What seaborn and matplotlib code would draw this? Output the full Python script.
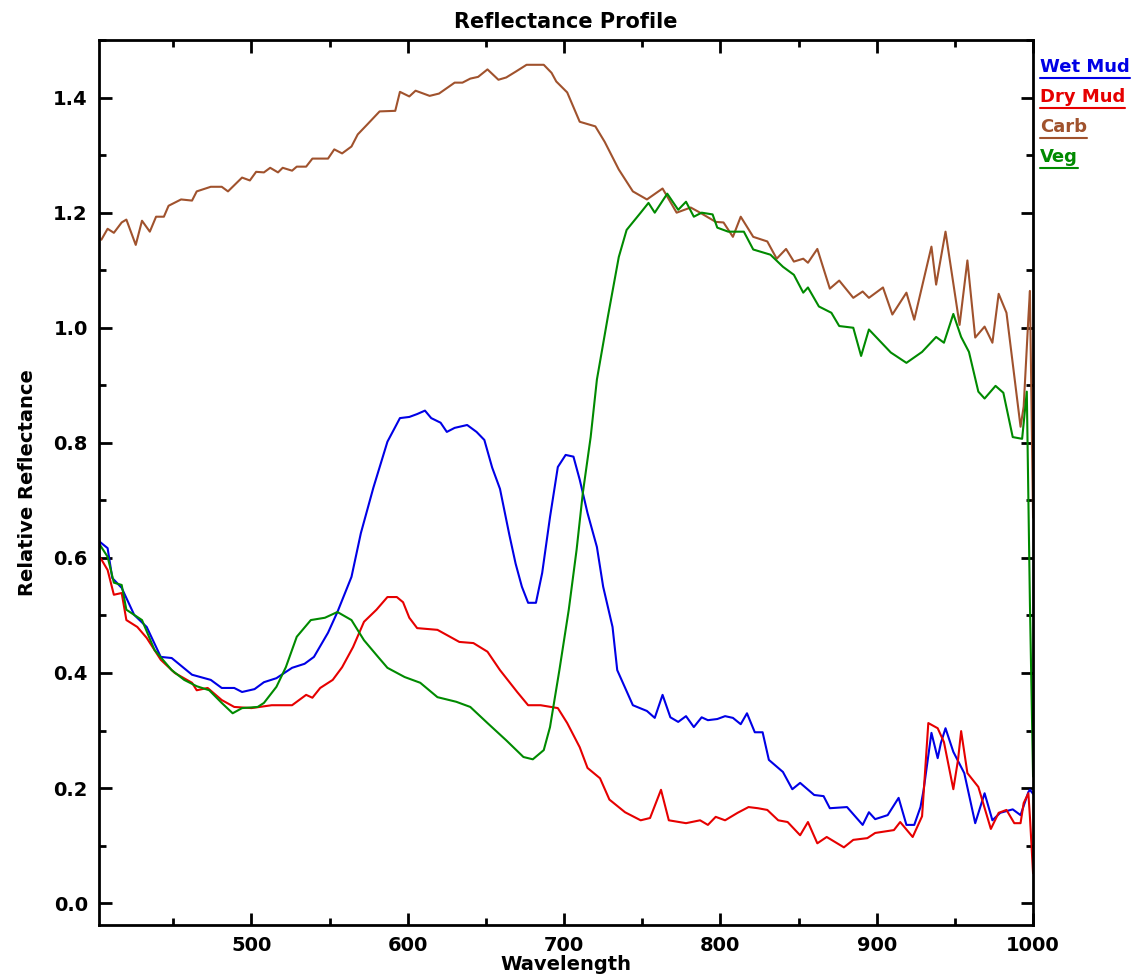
import matplotlib
matplotlib.use("Agg")
import matplotlib.pyplot as plt
import seaborn as sns
import pandas as pd
from matplotlib.lines import Line2D
from matplotlib.ticker import MultipleLocator

# Wet Mud
wet_wl = [403, 408, 411, 417, 425, 433, 442, 449, 462, 474, 481, 489, 494, 502, 508,
          516, 526, 534, 540, 549, 555, 564, 570, 578, 587, 595, 601, 606, 611, 615,
          621, 625, 630, 638, 644, 649, 654, 659, 665, 669, 673, 677, 682, 686, 691,
          696, 701, 706, 710, 715, 721, 725, 731, 734, 744, 753, 758, 763, 768, 773,
          778, 783, 788, 792, 798, 803, 808, 813, 817, 822, 827, 831, 840, 846, 851,
          860, 866, 870, 881, 891, 895, 899, 907, 914, 919, 924, 928, 930, 935, 939,
          941, 944, 949, 956, 963, 969, 974, 979, 987, 992, 997, 998, 1000]
wet_refl = [0.628, 0.617, 0.565, 0.548, 0.501, 0.480, 0.428, 0.426, 0.397, 0.388, 0.374,
            0.374, 0.367, 0.372, 0.384, 0.391, 0.409, 0.416, 0.428, 0.470, 0.506, 0.567,
            0.643, 0.722, 0.802, 0.843, 0.845, 0.850, 0.856, 0.843, 0.835, 0.819, 0.826,
            0.831, 0.819, 0.805, 0.757, 0.720, 0.640, 0.590, 0.550, 0.522, 0.522, 0.574,
            0.671, 0.758, 0.779, 0.776, 0.736, 0.678, 0.619, 0.550, 0.480, 0.405, 0.344,
            0.334, 0.322, 0.362, 0.323, 0.315, 0.325, 0.306, 0.323, 0.318, 0.320, 0.325,
            0.322, 0.311, 0.330, 0.297, 0.297, 0.249, 0.228, 0.198, 0.209, 0.188, 0.186,
            0.165, 0.167, 0.136, 0.158, 0.146, 0.153, 0.183, 0.136, 0.136, 0.167, 0.197,
            0.296, 0.252, 0.278, 0.304, 0.263, 0.226, 0.139, 0.191, 0.144, 0.157, 0.163,
            0.153, 0.193, 0.197, 0.190]

# Dry Mud
dry_wl = [403, 408, 412, 417, 420, 427, 433, 442, 451, 462, 465, 472, 481, 489, 500,
          513, 526, 535, 539, 544, 552, 558, 565, 572, 580, 587, 593, 597, 601, 606,
          619, 625, 633, 642, 651, 659, 670, 677, 685, 696, 702, 710, 715, 723, 729,
          739, 749, 755, 762, 767, 778, 787, 792, 797, 803, 811, 818, 824, 830, 837,
          843, 851, 856, 862, 868, 879, 885, 894, 899, 911, 915, 923, 929, 930, 933,
          939, 943, 949, 952, 954, 958, 965, 973, 978, 983, 988, 992, 994, 997, 998,
          1000]
dry_refl = [0.602, 0.579, 0.536, 0.539, 0.492, 0.480, 0.461, 0.423, 0.400, 0.383, 0.370,
            0.374, 0.353, 0.341, 0.339, 0.344, 0.344, 0.362, 0.357, 0.374, 0.388, 0.410,
            0.445, 0.489, 0.510, 0.532, 0.532, 0.523, 0.496, 0.478, 0.475, 0.466, 0.454,
            0.452, 0.437, 0.405, 0.367, 0.344, 0.344, 0.339, 0.313, 0.271, 0.235, 0.217,
            0.180, 0.158, 0.144, 0.148, 0.197, 0.144, 0.139, 0.144, 0.136, 0.150, 0.144,
            0.157, 0.167, 0.165, 0.162, 0.144, 0.141, 0.118, 0.141, 0.104, 0.115, 0.097,
            0.110, 0.113, 0.122, 0.127, 0.141, 0.115, 0.151, 0.191, 0.313, 0.304, 0.280,
            0.198, 0.249, 0.299, 0.226, 0.202, 0.129, 0.157, 0.162, 0.139, 0.139, 0.174,
            0.191, 0.150, 0.052]

# Carb
carb_wl = [404, 408, 412, 417, 420, 426, 430, 435, 439, 444, 447, 455, 462, 465, 474,
           481, 485, 494, 499, 503, 508, 512, 517, 520, 526, 529, 535, 539, 549, 553,
           558, 564, 568, 574, 582, 592, 595, 601, 605, 614, 620, 630, 635, 640, 645,
           651, 658, 663, 669, 676, 687, 692, 695, 702, 710, 720, 726, 735, 744, 753,
           763, 772, 781, 787, 797, 802, 808, 813, 821, 830, 836, 842, 847, 853, 856,
           862, 870, 876, 885, 891, 895, 904, 910, 919, 924, 935, 938, 944, 953, 958,
           963, 969, 974, 978, 983, 992, 994, 997, 998, 1000]
carb_refl = [1.153, 1.172, 1.165, 1.183, 1.188, 1.144, 1.186, 1.167, 1.193, 1.193, 1.212,
             1.223, 1.221, 1.237, 1.245, 1.245, 1.237, 1.261, 1.256, 1.271, 1.270, 1.278,
             1.270, 1.278, 1.273, 1.280, 1.280, 1.294, 1.294, 1.310, 1.303, 1.315, 1.336,
             1.353, 1.376, 1.377, 1.410, 1.402, 1.412, 1.403, 1.407, 1.426, 1.426, 1.433,
             1.436, 1.449, 1.431, 1.435, 1.445, 1.457, 1.457, 1.443, 1.428, 1.409, 1.358,
             1.350, 1.323, 1.275, 1.237, 1.223, 1.242, 1.200, 1.209, 1.200, 1.184, 1.183,
             1.158, 1.193, 1.158, 1.150, 1.120, 1.137, 1.115, 1.120, 1.113, 1.137, 1.068,
             1.082, 1.052, 1.063, 1.052, 1.070, 1.023, 1.061, 1.014, 1.141, 1.075, 1.167,
             1.005, 1.117, 0.983, 1.002, 0.974, 1.059, 1.026, 0.828, 0.863, 1.017, 1.064,
             0.670]

# Veg
veg_wl = [403, 408, 412, 417, 420, 430, 438, 449, 457, 465, 473, 481, 488, 494, 504,
          508, 516, 522, 529, 538, 547, 555, 564, 572, 581, 587, 598, 608, 619, 631,
          640, 651, 663, 674, 680, 687, 691, 697, 703, 708, 712, 717, 721, 728, 735,
          740, 749, 754, 758, 766, 773, 778, 783, 788, 795, 798, 805, 815, 821, 832,
          840, 847, 853, 856, 863, 871, 876, 885, 890, 895, 909, 919, 929, 938, 943,
          949, 954, 959, 965, 969, 976, 981, 987, 993, 996, 998, 1000]
veg_refl = [0.623, 0.602, 0.557, 0.553, 0.510, 0.492, 0.440, 0.405, 0.388, 0.377, 0.370,
            0.348, 0.330, 0.339, 0.341, 0.348, 0.376, 0.410, 0.463, 0.492, 0.496, 0.506,
            0.492, 0.457, 0.428, 0.409, 0.393, 0.383, 0.358, 0.350, 0.341, 0.313, 0.283,
            0.254, 0.250, 0.266, 0.306, 0.405, 0.510, 0.614, 0.713, 0.810, 0.910, 1.019,
            1.123, 1.170, 1.200, 1.217, 1.200, 1.233, 1.205, 1.219, 1.193, 1.200, 1.197,
            1.174, 1.167, 1.167, 1.136, 1.127, 1.106, 1.092, 1.061, 1.070, 1.037, 1.026,
            1.003, 1.000, 0.951, 0.997, 0.957, 0.939, 0.958, 0.984, 0.974, 1.024, 0.984,
            0.958, 0.889, 0.877, 0.899, 0.887, 0.810, 0.807, 0.889, 0.520, 0.220]

series_names = ["Wet Mud", "Dry Mud", "Carb", "Veg"]
series_colors = ["#0000e6", "#e60000", "#a0522d", "#008a00"]
series_data = [(wet_wl, wet_refl), (dry_wl, dry_refl), (carb_wl, carb_refl), (veg_wl, veg_refl)]

sns.set_theme(style="ticks")
plt.rcParams["font.family"] = ["DejaVu Sans"]
plt.rcParams["font.weight"] = "bold"
plt.rcParams["text.color"] = "black"
plt.rcParams["axes.labelcolor"] = "black"

fig = plt.figure(figsize=(11.42, 9.77), dpi=100)
ax = fig.add_axes([0.0867, 0.0532, 0.8179, 0.9058])

for name, color, (wl, refl) in zip(series_names, series_colors, series_data):
    df = pd.DataFrame({"Wavelength": wl, "Reflectance": refl})
    sns.lineplot(data=df, x="Wavelength", y="Reflectance", ax=ax, color=color,
                 linewidth=1.5, estimator=None, sort=False, legend=False)

ax.set_xlim(402.5, 1000)
ax.set_ylim(-0.038, 1.5)
ax.xaxis.set_minor_locator(MultipleLocator(50))
ax.yaxis.set_minor_locator(MultipleLocator(0.1))
ax.set_xticks([500, 600, 700, 800, 900, 1000])
ax.set_xticklabels(["500", "600", "700", "800", "900", "1000"])
ax.set_yticks([0.0, 0.2, 0.4, 0.6, 0.8, 1.0, 1.2, 1.4])
ax.set_yticklabels(["0.0", "0.2", "0.4", "0.6", "0.8", "1.0", "1.2", "1.4"])
ax.tick_params(which="both", direction="in", top=True, right=True, width=2,
               labelsize=14, colors="black")
ax.tick_params(which="major", length=9, pad=8)
ax.tick_params(which="minor", length=5)
for lab in ax.get_xticklabels() + ax.get_yticklabels():
    lab.set_fontweight("bold")
for sp in ax.spines.values():
    sp.set_linewidth(2)
    sp.set_color("black")

ax.set_xlabel("Wavelength", fontsize=14, fontweight="bold", labelpad=0, color="black")
ax.set_ylabel("Relative Reflectance", fontsize=14, fontweight="bold", labelpad=12,
              color="black")
ax.set_title("Reflectance Profile", fontsize=15, fontweight="bold", pad=9, color="black")

# legend: colored underlined labels outside the right edge
fig.canvas.draw()
renderer = fig.canvas.get_renderer()
for i, (name, color) in enumerate(zip(series_names, series_colors)):
    y = 1 - (67 + 30 * i) / 977
    t = fig.text(1040 / 1142, y, name, color=color, fontsize=13, fontweight="bold",
                 ha="left", va="center")
    bb = t.get_window_extent(renderer).transformed(fig.transFigure.inverted())
    fig.add_artist(Line2D([bb.x0, bb.x1], [bb.y0 - 0.002, bb.y0 - 0.002],
                          color=color, linewidth=1.5, transform=fig.transFigure))

fig.savefig("out.png", dpi=100)
